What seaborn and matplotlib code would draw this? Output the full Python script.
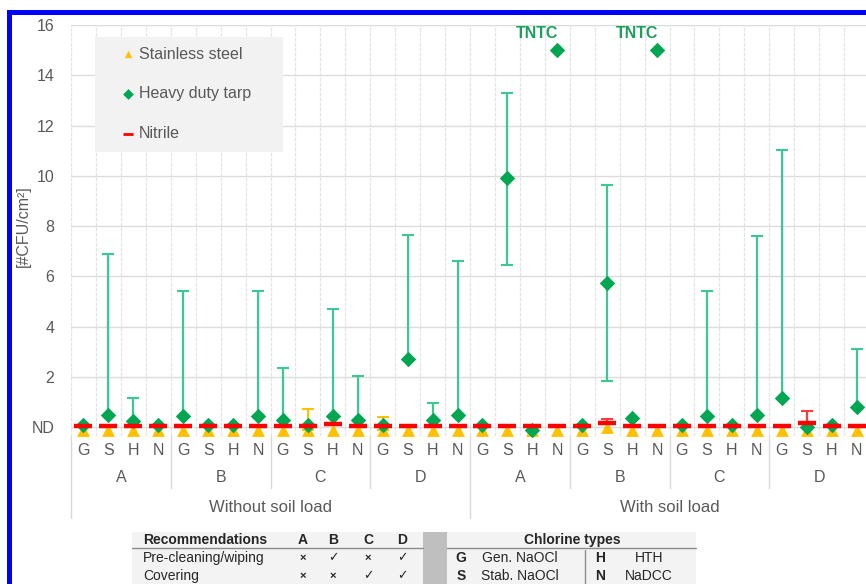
import numpy as np
import pandas as pd
import matplotlib.pyplot as plt
import seaborn as sns
from matplotlib.patches import Rectangle
from matplotlib.lines import Line2D

nan = np.nan

# category levels
soil_loads = ['Without soil load', 'With soil load']
recommendations = ['A', 'B', 'C', 'D']
chlorine_types = ['G', 'S', 'H', 'N']

# values, 32 categories (soil x recommendation x chlorine)
# ND is plotted at 0
tarp_mean = [0.1, 0.5, 0.25, 0.1, 0.45, 0.1, 0.1, 0.45, 0.3, 0.1, 0.45, 0.3, 0.1, 2.7, 0.3, 0.5,
             0.1, 9.9, -0.1, 15.0, 0.1, 5.75, 0.35, 15.0, 0.1, 0.45, 0.1, 0.5, 1.15, 0.0, 0.1, 0.8]
tarp_upper = [nan, 6.9, 1.15, nan, 5.4, nan, nan, 5.4, 2.35, nan, 4.72, 2.05, nan, 7.65, 0.98, 6.62,
              nan, 13.3, nan, nan, nan, 9.62, nan, nan, nan, 5.42, nan, 7.6, 11.02, nan, nan, 3.12]
tarp_lower = [nan, nan, nan, nan, nan, nan, nan, nan, nan, nan, nan, nan, nan, nan, nan, nan,
              nan, 6.45, nan, nan, nan, 1.85, nan, nan, nan, nan, nan, nan, nan, nan, nan, nan]
tntc = [19, 23]

steel_mean = [-0.12, -0.12, -0.12, -0.12, -0.12, -0.12, -0.12, -0.12, -0.12, -0.1, -0.12, -0.12, -0.1, -0.12, -0.12, -0.12,
              -0.12, -0.12, -0.12, -0.12, -0.12, 0.0, -0.12, -0.12, -0.12, -0.12, -0.12, -0.12, -0.12, -0.12, -0.12, -0.12]
steel_upper = [nan, nan, nan, nan, nan, nan, nan, nan, nan, 0.72, nan, nan, 0.42, nan, nan, nan,
               nan, nan, nan, nan, nan, nan, nan, nan, nan, nan, nan, nan, nan, nan, nan, nan]

nitrile_mean = [0.05, 0.05, 0.05, 0.05, 0.05, 0.05, 0.05, 0.05, 0.05, 0.05, 0.12, 0.05, 0.05, 0.05, 0.05, 0.05,
                0.05, 0.05, 0.05, 0.05, 0.05, 0.15, 0.05, 0.05, 0.05, 0.05, 0.05, 0.05, 0.05, 0.17, 0.05, 0.05]
nitrile_upper = [nan, nan, nan, nan, nan, nan, nan, nan, nan, nan, nan, nan, nan, nan, nan, nan,
                 nan, nan, nan, nan, nan, 0.32, nan, nan, nan, nan, nan, nan, nan, 0.64, nan, nan]

y_ticks = [0, 2, 4, 6, 8, 10, 12, 14, 16]
y_ticklabels = ['ND', '2', '4', '6', '8', '10', '12', '14', '16']

rec_table = [('Pre-cleaning/wiping', ['×', '✓', '×', '✓']),
             ('Covering', ['×', '×', '✓', '✓'])]
chlorine_names = {'G': 'Gen. NaOCl', 'S': 'Stab. NaOCl', 'H': 'HTH', 'N': 'NaDCC'}

rows = []
for s in soil_loads:
    for r in recommendations:
        for c in chlorine_types:
            rows.append((s, r, c))
df = pd.DataFrame(rows, columns=['soil', 'rec', 'chlorine'])
df['pos'] = np.arange(len(df))
df['tarp'] = tarp_mean
df['steel'] = steel_mean
df['nitrile'] = nitrile_mean

sns.set_theme(style='white')
plt.rcParams['font.family'] = ['Liberation Sans', 'DejaVu Sans']

W, H = 866, 584
fig = plt.figure(figsize=(W / 100, H / 100), dpi=100)
ax = fig.add_axes([71 / W, 1 - 436 / H, 798 / W, 411 / H])

GREEN = '#00a651'
GREEN_ERR = '#3cc892'
ORANGE = '#ffc000'
RED = '#ff0000'
GREY = '#595959'


def draw_err(mean, upper, lower, color, z):
    mean = np.array(mean)
    upper = np.array(upper)
    lower = np.array(lower) if lower is not None else np.full(len(mean), nan)
    m = ~np.isnan(upper)
    lo = np.where(np.isnan(lower), mean, lower)
    ax.errorbar(df['pos'][m], mean[m], yerr=[mean[m] - lo[m], upper[m] - mean[m]],
                fmt='none', ecolor=color, elinewidth=1.6, capsize=4, capthick=1.5,
                zorder=z, clip_on=False)


draw_err(steel_mean, steel_upper, None, ORANGE, 2)
draw_err(tarp_mean, tarp_upper, tarp_lower, GREEN_ERR, 2)
draw_err(nitrile_mean, nitrile_upper, None, '#ff3b3b', 2)

sns.scatterplot(data=df, x='pos', y='steel', marker='^', s=85, color=ORANGE,
                linewidth=0, ax=ax, zorder=3, label='Stainless steel', clip_on=False)
sns.scatterplot(data=df, x='pos', y='tarp', marker='D', s=62, color=GREEN,
                linewidth=0, ax=ax, zorder=4, label='Heavy duty tarp', clip_on=False)
sns.scatterplot(data=df, x='pos', y='nitrile', marker='_', s=150, color=RED,
                linewidth=3.2, ax=ax, zorder=5, label='Nitrile', clip_on=False)

for i in tntc:
    ax.annotate('TNTC', xy=(df['pos'][i], tarp_mean[i]), xytext=(-14.5, 12),
                textcoords='offset points', ha='center', va='center',
                color='#1a9f5c', fontweight='bold', fontsize=11.5)

ax.set_xlim(-0.5, len(df) - 0.5)
ax.set_ylim(-0.35, 16)
ax.set_yticks(y_ticks)
ax.set_yticklabels(y_ticklabels)
ax.set_xticks(df['pos'])
ax.set_xticklabels(df['chlorine'])
ax.set_xticks(np.arange(-0.5, len(df), 1), minor=True)
ax.tick_params(which='both', length=0)
ax.tick_params(axis='y', pad=12, labelsize=11.5, labelcolor=GREY)
ax.tick_params(axis='x', pad=5, labelsize=11.5, labelcolor=GREY)
ax.set_axisbelow(True)
ax.grid(which='major', axis='y', color='#dcdcdc', lw=1)
ax.grid(which='minor', axis='x', color='#e4e4e4', lw=0.9, ls=(0, (3, 1)))
ax.grid(which='major', axis='x', visible=False)
for sp in ax.spines.values():
    sp.set_visible(False)
ax.set_xlabel('')
ax.set_ylabel('[#CFU/cm²]', fontsize=11.5, color=GREY)
ax.yaxis.set_label_coords(-0.05, 0.51)

# multi-level category labels
tr = ax.get_xaxis_transform()
n_c = len(chlorine_types)
n_rc = len(recommendations) * n_c
for gi in range(len(soil_loads) * len(recommendations)):
    center = gi * n_c + (n_c - 1) / 2
    ax.text(center, -0.102, recommendations[gi % len(recommendations)], transform=tr,
            ha='center', va='center', fontsize=11.5, color=GREY)
    if gi % len(recommendations) != 0:
        ax.plot([gi * n_c - 0.5] * 2, [0, -0.127], transform=tr, color='#d9d9d9',
                lw=1, clip_on=False)
for si, s in enumerate(soil_loads):
    ax.text(si * n_rc + (n_rc - 1) / 2, -0.175, s, transform=tr, ha='center',
            va='center', fontsize=12, color=GREY)
for si in range(len(soil_loads) + 1):
    ax.plot([si * n_rc - 0.5] * 2, [0, -0.2], transform=tr, color='#d9d9d9',
            lw=1, clip_on=False)

# legend with grey box
ax.add_patch(Rectangle((0.030, 0.691), 0.2356, 0.2798, transform=ax.transAxes,
                       facecolor='#f2f2f2', edgecolor='none', zorder=1))
handles, labels = ax.get_legend_handles_labels()
leg = ax.legend(handles, labels, loc='upper left', bbox_to_anchor=(0.051, 0.967),
                frameon=False, borderpad=0, handlelength=1.0, handletextpad=0.2,
                labelspacing=1.55, fontsize=11.5)
for t in leg.get_texts():
    t.set_color(GREY)
for h, sz in zip(leg.legend_handles, [28, 30, 45]):
    h.set_sizes([sz])
leg.legend_handles[2].set_linewidth(2)
leg.set_zorder(6)


# bottom tables, drawn in figure pixels
def fx(x):
    return x / W


def fy(y):
    return 1 - y / H


TXT = '#262626'
fig.add_artist(Rectangle((fx(132), fy(584)), fx(696) - fx(132), fy(532) - fy(584),
                         facecolor='#f3f3f3', edgecolor='none'))
fig.add_artist(Rectangle((fx(423), fy(584)), fx(447) - fx(423), fy(532) - fy(584),
                         facecolor='#bfbfbf', edgecolor='none'))
fig.add_artist(Line2D([fx(132), fx(423)], [fy(548), fy(548)], color='#8c8c8c', lw=1))
fig.add_artist(Line2D([fx(447), fx(696)], [fy(548), fy(548)], color='#8c8c8c', lw=1))
fig.add_artist(Line2D([fx(585), fx(585)], [fy(550), fy(584)], color='#8c8c8c', lw=1))

col_x = [303, 333, 368, 402]
fig.text(fx(143), fy(540), 'Recommendations', ha='left', va='center', fontsize=10,
         fontweight='bold', color=TXT)
for r, cx in zip(recommendations, col_x):
    fig.text(fx(cx), fy(540), r, ha='center', va='center', fontsize=10,
             fontweight='bold', color=TXT)
for ri, (name, marks) in enumerate(rec_table):
    yy = 558 + ri * 18
    fig.text(fx(143), fy(yy), name, ha='left', va='center', fontsize=10, color=TXT)
    for mk, cx in zip(marks, col_x):
        fig.text(fx(cx), fy(yy), mk, ha='center', va='center',
                 fontsize=8 if mk == '×' else 9,
                 fontweight='bold' if mk == '×' else 'normal', color=TXT)

fig.text(fx(572), fy(540), 'Chlorine types', ha='center', va='center', fontsize=10,
         fontweight='bold', color=TXT)
for ri, pair in enumerate([('G', 'H'), ('S', 'N')]):
    yy = 558 + ri * 18
    for code, cx, nx in zip(pair, [461, 600], [520, 649]):
        fig.text(fx(cx), fy(yy), code, ha='center', va='center', fontsize=10,
                 fontweight='bold', color=TXT)
        fig.text(fx(nx), fy(yy), chlorine_names[code], ha='center', va='center',
                 fontsize=10, color=TXT)

# blue frame of the source figure
fig.add_artist(Rectangle((fx(7), fy(584)), fx(12) - fx(7), fy(10) - fy(584),
                         facecolor='#0000ff', edgecolor='none'))
fig.add_artist(Rectangle((fx(7), fy(15)), fx(866) - fx(7), fy(10) - fy(15),
                         facecolor='#0000ff', edgecolor='none'))

fig.savefig('out.png', dpi=100)
